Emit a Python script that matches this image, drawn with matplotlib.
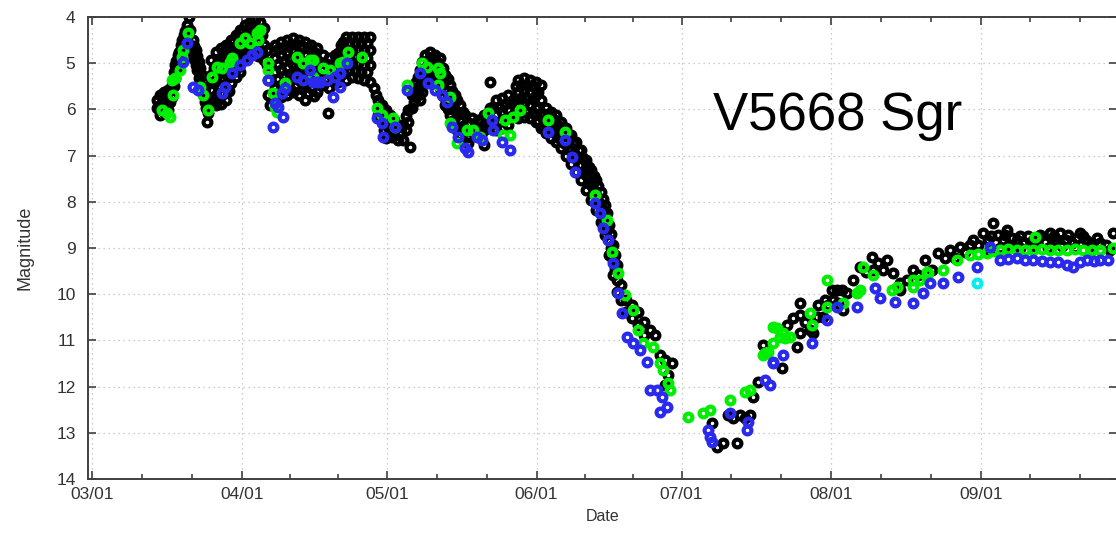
"""
plot.py
Courbe de lumière de V5668 Sgr (magnitude en fonction de la date).
"""

import matplotlib
matplotlib.use("Agg")
import matplotlib.pyplot as plt
from matplotlib.ticker import FixedLocator, NullFormatter

# dates : jours depuis le 03/01 ; magnitudes
month_days = [0, 31, 61, 92, 122, 153, 184]
month_labels = ["03/01", "04/01", "05/01", "06/01", "07/01", "08/01", "09/01"]

black_day = [
    13.5, 13.5, 14.1, 14.1, 14.1, 14.9, 14.9, 14.9, 15.7, 15.7, 15.7, 16.6, 16.6,
    17.2, 17.2, 17.8, 17.8, 18.4, 18.4, 19.0, 19.0, 19.7, 19.7, 20.1, 20.3,
    20.9, 20.9, 21.5, 21.5, 22.1, 22.1, 22.8, 22.8, 23.4, 23.4, 23.8, 24.0, 23.8,
    24.6, 24.6, 24.6, 24.6, 25.7, 25.7, 25.7, 25.7, 25.7, 26.7, 26.7, 26.7, 26.7, 26.7,
    27.7, 27.7, 27.7, 27.7, 27.7, 28.8, 28.8, 28.8, 28.8, 29.8, 29.8, 29.8, 29.8,
    30.6, 30.6, 30.6, 30.6,
    31.7, 31.7, 31.7, 32.7, 32.7, 32.7, 33.7, 33.7, 33.7, 34.8, 34.8, 34.8, 35.6, 35.6, 35.6,
    36.2, 36.2, 36.4, 36.4, 36.8,
    37.9, 37.9, 37.9, 37.9, 37.9, 39.1, 39.1, 39.1, 39.1, 39.1, 40.4, 40.4, 40.4, 40.4, 40.4,
    41.6, 41.6, 41.6, 41.6, 41.6, 42.8, 42.8, 42.8, 42.8, 42.8, 44.1, 44.1, 44.1, 44.1, 44.1,
    45.3, 45.3, 45.3, 45.3, 46.6, 46.6, 46.6, 46.6, 48.8,
    47.8, 47.8, 47.8, 49.0, 49.0, 49.0, 50.3, 50.3, 50.3, 51.5, 51.5, 51.5,
    52.6, 52.6, 52.6, 52.6, 53.8, 53.8, 53.8, 53.8, 55.0, 55.0, 55.0, 55.0,
    56.3, 56.3, 56.3, 56.3, 57.5, 57.5, 57.5, 57.5, 58.4, 58.8,
    59.2, 59.2, 60.0, 60.0, 60.8, 60.8, 60.8, 61.7, 61.7, 62.5, 62.5, 63.3, 63.3,
    64.4, 64.4, 65.4, 65.4, 65.8,
    66.2, 66.2, 67.1, 67.1, 67.9, 67.9, 67.9,
    68.9, 68.9, 68.9, 70.0, 70.0, 70.0, 71.0, 71.0, 71.0, 72.0, 72.0, 72.0,
    73.1, 73.1, 73.1, 74.1, 74.1, 74.1, 75.1, 75.1, 75.1, 76.2, 76.2, 76.2,
    77.2, 77.2, 77.8, 78.6, 78.6, 79.9, 79.9, 81.1, 81.1, 81.1, 82.4, 82.4, 82.4,
    83.6, 83.6, 83.6, 84.9, 84.9, 84.9, 86.1, 86.1, 86.1, 87.1, 87.1,
    88.2, 88.2, 88.2, 88.2, 89.4, 89.4, 89.4, 89.4, 90.6, 90.6, 90.6, 90.6,
    91.9, 91.9, 91.9, 91.9, 92.9, 92.9, 92.9, 92.9,
    94.0, 94.0, 94.0, 95.0, 95.0, 95.0, 96.0, 96.0, 96.0, 97.1, 97.1, 97.1,
    98.1, 98.1, 98.1, 99.1, 99.1, 99.1, 100.2, 100.2, 100.2, 101.2, 101.2, 101.2,
    102.2, 102.2, 102.2, 103.3, 103.3, 103.3, 104.3, 104.3, 104.3, 105.3, 105.3, 105.3,
    106.2, 106.2, 106.2, 107.0, 107.0, 107.0, 107.8, 107.8, 107.8, 108.7, 108.7, 108.7,
    109.5, 109.5,
    110.5, 110.5, 111.8, 111.8, 113.0, 113.0, 114.2, 114.2, 115.5, 116.5,
    117.5, 118.6, 120.0, 118.6, 119.2,
    128.3, 129.3, 130.6, 133.5, 131.6, 132.7, 134.1, 135.1, 136.2, 136.8, 137.8, 138.9,
    142.8, 143.8, 145.9,
    145.1, 146.5, 146.5, 146.5, 147.6, 148.6, 149.2, 150.0, 151.3, 152.3, 150.2, 151.7,
    153.1, 154.2, 155.2, 156.2, 153.4, 154.4, 155.4, 157.5, 158.9, 160.2, 161.4, 161.6,
    162.7, 163.7, 164.5, 165.8, 167.2, 167.2, 168.7, 169.9, 170.9, 172.4, 173.8, 175.1,
    176.5, 177.6, 178.6, 179.6, 180.7, 181.7, 182.3, 183.4, 184.4, 185.4, 186.5, 187.5,
    188.5, 189.4, 190.4, 191.4, 192.7, 193.7, 194.7, 196.2, 197.2, 198.3, 199.3, 200.3,
    201.6, 202.8, 203.8, 204.5, 205.7, 206.9, 208.6, 209.9, 211.3,
    185.8, 187.9, 190.0, 192.1, 195.2, 197.8, 200.7, 203.4, 206.5, 210.7,
    186.0, 189.0, 192.0, 195.5, 199.0, 202.0, 205.0, 208.0,
    # points intermédiaires du nuage dense
    14.5, 14.5, 15.3, 15.3, 16.1, 16.1, 16.9, 16.9, 17.5, 17.5, 18.1, 18.1,
    18.7, 18.7, 19.3, 19.3, 21.2, 21.2, 21.8, 21.8, 22.4, 22.4, 23.1, 23.1, 23.6, 23.6,
    25.2, 25.2, 25.2, 26.2, 26.2, 26.2, 26.2, 27.2, 27.2, 27.2, 27.2,
    28.3, 28.3, 28.3, 28.3, 29.3, 29.3, 29.3, 30.2, 30.2, 30.2,
    31.2, 31.2, 31.2, 32.2, 32.2, 32.2, 33.2, 33.2, 33.2, 34.3, 34.3, 34.3, 35.2, 35.2,
    38.5, 38.5, 38.5, 38.5, 39.8, 39.8, 39.8, 39.8, 41.0, 41.0, 41.0, 41.0,
    42.2, 42.2, 42.2, 42.2, 43.5, 43.5, 43.5, 43.5, 44.7, 44.7, 44.7, 44.7,
    46.0, 46.0, 46.0, 46.0, 47.2, 47.2, 48.4, 48.4, 49.7, 49.7, 50.9, 50.9, 50.9,
    52.0, 52.0, 52.0, 53.2, 53.2, 53.2, 54.4, 54.4, 54.4, 55.7, 55.7, 55.7,
    56.9, 56.9, 56.9,
    59.6, 59.6, 60.4, 60.4, 61.2, 61.2, 62.1, 62.1, 62.9, 63.9, 64.9, 64.9,
    66.7, 66.7, 67.5, 67.5, 68.4, 68.4, 68.4, 69.5, 69.5, 70.5, 70.5, 71.5, 71.5,
    72.6, 72.6, 72.6, 73.6, 73.6, 73.6, 74.6, 74.6, 74.6, 75.6, 75.6, 75.6,
    76.7, 76.7, 78.0, 78.0, 79.2, 80.5, 80.5, 81.8, 81.8, 83.0, 83.0,
    84.3, 84.3, 85.5, 85.5, 86.6, 86.6, 87.7, 87.7, 87.7, 88.8, 88.8, 88.8,
    90.0, 90.0, 90.0, 91.2, 91.2, 91.2, 92.4, 92.4, 92.4,
    93.5, 93.5, 94.5, 94.5, 95.5, 95.5, 96.6, 96.6, 97.6, 97.6, 98.6, 98.6,
    99.6, 99.6, 100.7, 100.7, 101.7, 101.7, 102.8, 102.8, 103.8, 103.8,
    104.8, 104.8, 105.8, 105.8, 106.6, 106.6, 107.4, 107.4, 108.3, 108.3,
]
black_mag = [
    5.80, 5.97, 5.69, 5.91, 6.12, 5.62, 5.84, 6.06, 5.58, 5.80, 6.01, 5.47, 5.73,
    5.04, 5.32, 4.82, 5.10, 4.61, 4.93, 4.39, 4.71, 4.17, 4.50, 4.00, 4.28,
    4.50, 4.82, 4.71, 5.04, 4.97, 5.32, 5.26, 5.58, 5.54, 5.84, 5.80, 6.08, 6.27,
    4.93, 5.26, 5.58, 5.86, 4.76, 5.04, 5.36, 5.69, 5.90, 4.67, 4.97, 5.32, 5.65, 5.88,
    4.61, 4.89, 5.19, 5.54, 5.80, 4.50, 4.82, 5.15, 5.43, 4.39, 4.71, 5.04, 5.30,
    4.28, 4.61, 4.93, 5.19,
    4.17, 4.45, 4.76, 4.11, 4.39, 4.71, 4.06, 4.35, 4.65, 4.11, 4.39, 4.71, 4.24, 4.61, 4.93,
    4.71, 5.04, 5.36, 5.69, 5.91,
    4.61, 4.89, 5.19, 5.54, 5.80, 4.54, 4.82, 5.15, 5.47, 5.73, 4.50, 4.76, 5.08, 5.41, 5.69,
    4.45, 4.71, 5.02, 5.32, 5.62, 4.50, 4.78, 5.08, 5.36, 5.69, 4.54, 4.82, 5.15, 5.47, 5.80,
    4.61, 4.89, 5.19, 5.54, 4.67, 4.97, 5.30, 5.62, 6.08,
    4.82, 5.15, 5.47, 4.89, 5.19, 5.54, 4.82, 5.10, 5.41, 4.61, 4.93, 5.26,
    4.43, 4.71, 5.04, 5.36, 4.43, 4.71, 5.00, 5.30, 4.43, 4.71, 5.00, 5.32,
    4.43, 4.71, 5.04, 5.36, 4.43, 4.71, 5.04, 5.41, 5.54, 5.69,
    5.80, 6.12, 5.91, 6.23, 6.01, 6.34, 6.62, 6.12, 6.45, 6.23, 6.55, 6.34, 6.66,
    6.34, 6.66, 6.01, 6.27, 6.81,
    5.69, 5.97, 5.41, 5.73, 5.15, 5.47, 5.80,
    4.82, 5.10, 5.41, 4.76, 5.04, 5.36, 4.82, 5.10, 5.41, 4.89, 5.19, 5.54,
    5.26, 5.58, 5.91, 5.47, 5.80, 6.12, 5.69, 6.01, 6.34, 5.91, 6.23, 6.55,
    6.12, 6.45, 6.73, 6.19, 6.49, 6.23, 6.55, 6.12, 6.45, 6.77, 5.97, 6.27, 5.41,
    5.80, 6.12, 6.45, 5.75, 6.06, 6.40, 5.69, 6.01, 6.34, 5.80, 6.12,
    5.36, 5.62, 5.91, 6.19, 5.32, 5.58, 5.86, 6.17, 5.36, 5.62, 5.91, 6.19,
    5.41, 5.69, 5.97, 6.27, 5.47, 5.80, 6.12, 6.40,
    5.97, 6.23, 6.51, 6.06, 6.34, 6.62, 6.12, 6.40, 6.71, 6.27, 6.55, 6.84,
    6.40, 6.71, 7.01, 6.55, 6.88, 7.18, 6.71, 7.03, 7.36, 6.88, 7.20, 7.53,
    7.10, 7.42, 7.74, 7.31, 7.64, 7.96, 7.53, 7.85, 8.18, 7.79, 8.11, 8.44,
    8.07, 8.39, 8.72, 8.50, 8.83, 9.15, 8.94, 9.26, 9.58, 9.37, 9.69, 9.95,
    9.80, 10.13,
    10.13, 10.39, 10.23, 10.52, 10.39, 10.67, 10.60, 10.88, 10.77, 10.88,
    11.32, 11.42, 11.49, 11.97, 11.75,
    12.79, 13.31, 13.22, 13.22, 12.61, 12.68, 12.61, 12.68, 12.61, 12.23, 11.90, 11.10,
    11.60, 10.67, 11.14,
    10.52, 10.19, 10.45, 10.84, 10.60, 10.77, 10.84, 10.49, 10.49, 10.23, 10.23, 10.13,
    9.91, 9.91, 9.91, 9.97, 10.13, 10.19, 10.34, 9.69, 9.41, 9.52, 9.19, 9.48,
    9.32, 9.48, 9.26, 9.54, 9.76, 9.91, 9.69, 9.48, 9.58, 9.26, 9.48, 9.11,
    9.22, 9.04, 9.22, 8.98, 9.09, 8.94, 8.83, 8.94, 8.68, 8.83, 8.46, 8.72,
    8.83, 8.61, 8.78, 8.83, 8.89, 8.74, 8.83, 8.72, 8.87, 8.68, 8.83, 8.68,
    8.83, 8.89, 8.78, 8.68, 8.83, 8.89, 8.89, 8.94, 8.68,
    9.04, 9.00, 8.96, 9.00, 8.96, 9.00, 8.96, 9.00, 8.96, 9.04,
    8.75, 8.72, 8.75, 8.78, 8.75, 8.72, 8.75, 8.78,
    # points intermédiaires du nuage dense
    5.72, 5.95, 5.70, 5.92, 5.55, 5.85, 5.20, 5.50, 4.95, 5.20, 4.75, 5.00,
    4.50, 4.80, 4.30, 4.60, 4.62, 4.90, 4.85, 5.15, 5.10, 5.45, 5.40, 5.70, 5.68, 5.98,
    5.10, 5.42, 5.75, 4.90, 5.20, 5.50, 5.78, 4.75, 5.05, 5.36, 5.67,
    4.66, 4.98, 5.30, 5.60, 4.55, 4.87, 5.17, 4.45, 4.77, 5.08,
    4.30, 4.60, 4.90, 4.25, 4.55, 4.85, 4.22, 4.50, 4.80, 4.25, 4.55, 4.85, 4.40, 4.75,
    4.70, 5.02, 5.35, 5.65, 4.65, 4.95, 5.28, 5.60, 4.60, 4.92, 5.25, 5.55,
    4.58, 4.88, 5.18, 5.48, 4.62, 4.95, 5.25, 5.55, 4.68, 5.00, 5.32, 5.65,
    4.75, 5.05, 5.38, 5.70, 5.00, 5.30, 5.02, 5.35, 5.02, 5.30, 4.78, 5.10, 5.40,
    4.55, 4.88, 5.20, 4.57, 4.86, 5.15, 4.57, 4.86, 5.16, 4.57, 4.86, 5.18,
    4.57, 4.88, 5.20,
    5.96, 6.18, 6.08, 6.45, 6.25, 6.55, 6.30, 6.60, 6.40, 6.50, 6.15, 6.45,
    5.57, 5.85, 5.30, 5.60, 4.98, 5.28, 5.62, 4.92, 5.20, 4.92, 5.22, 4.98, 5.30,
    5.10, 5.40, 5.70, 5.35, 5.70, 6.00, 5.60, 5.95, 6.25, 5.80, 6.12, 6.45,
    6.05, 6.35, 6.30, 6.60, 6.35, 6.25, 6.55, 6.10, 6.40, 5.95, 6.25,
    5.95, 6.28, 5.88, 6.20, 5.85, 6.18, 5.50, 5.78, 6.05, 5.47, 5.75, 6.05,
    5.47, 5.75, 6.05, 5.50, 5.78, 6.08, 5.62, 5.95, 6.25,
    6.10, 6.37, 6.15, 6.45, 6.20, 6.50, 6.35, 6.62, 6.45, 6.72, 6.55, 6.85,
    6.72, 7.03, 6.88, 7.20, 7.05, 7.35, 7.25, 7.58, 7.45, 7.75,
    7.65, 7.98, 7.95, 8.25, 8.25, 8.60, 8.70, 9.00, 9.15, 9.45,
]

green_day = [
    14.5, 15.5, 16.1, 16.8, 16.6, 17.2, 18.2, 18.6, 18.8, 19.9, 22.4, 23.0, 24.0,
    24.8, 25.9, 26.9, 28.6, 29.0, 30.6, 31.7, 32.7, 34.1, 34.4, 34.8, 36.4, 36.4,
    37.5, 37.9, 38.3, 39.9, 42.4, 43.7, 45.1, 45.7, 45.7, 47.8, 49.3, 51.3, 53.0,
    55.9, 51.9, 59.0, 60.0, 62.3, 62.7, 65.2, 68.3, 69.3, 71.6, 72.0, 71.6, 74.1,
    74.1, 77.6, 78.8, 80.3, 75.5, 82.0, 85.5, 87.1, 88.6, 85.1, 86.5, 94.4, 97.9,
    104.1, 106.6, 107.6, 108.9, 110.3, 112.0, 113.0, 114.0, 116.1, 117.5, 118.2,
    119.2, 119.6, 123.3, 126.4, 127.9, 132.0, 135.1, 136.2, 138.9, 139.9, 140.9,
    141.8, 143.0, 144.5, 140.9, 142.4, 139.3, 143.4, 148.6, 149.0, 152.1, 152.1,
    155.4, 158.3, 158.9, 159.6, 161.6, 165.6, 166.6, 169.9, 171.4, 173.0, 169.9,
    172.8, 176.1, 179.0, 181.7, 185.2, 187.9, 191.4, 195.2, 194.7, 198.3, 201.8,
    205.1, 208.6, 211.3, 189.6, 193.1, 196.6, 199.9, 203.4, 206.9, 183.4, 186.5,
]
green_mag = [
    6.01, 6.08, 6.16, 5.69, 5.36, 5.32, 5.15, 4.87, 4.71, 4.35, 5.52, 5.69, 6.01,
    5.30, 5.08, 5.10, 4.97, 4.89, 4.56, 4.45, 4.56, 4.35, 4.50, 4.28, 5.00, 5.15,
    5.65, 5.95, 6.06, 5.43, 4.87, 5.00, 4.93, 5.30, 4.93, 5.10, 5.15, 5.00, 4.76,
    4.87, 4.97, 5.97, 6.12, 6.19, 6.38, 5.47, 5.00, 5.08, 5.10, 5.21, 5.47, 5.73,
    6.29, 6.45, 6.45, 6.60, 6.73, 6.08, 6.23, 6.16, 6.01, 6.55, 6.55, 6.23, 6.49,
    7.85, 8.39, 9.09, 9.54, 10.02, 10.34, 10.77, 11.06, 11.14, 11.49, 11.64,
    11.92, 12.07, 12.66, 12.57, 12.51, 12.29, 12.12, 12.07, 11.32, 11.25, 11.06,
    10.73, 10.84, 10.93, 10.71, 10.93, 11.27, 10.95, 10.41, 10.67, 9.69, 10.28,
    10.19, 9.97, 9.91, 9.41, 9.58, 9.91, 9.84, 9.84, 9.69, 9.54, 9.69,
    9.52, 9.48, 9.26, 9.15, 9.11, 9.04, 9.04, 8.76, 9.04, 9.04, 9.04,
    9.04, 9.04, 9.00, 9.02, 9.04, 9.02, 9.04, 9.02, 9.04, 9.13, 9.06,
]

blue_day = [
    19.7, 18.8, 20.9, 21.9, 26.9, 27.5, 29.0, 30.6, 32.1, 33.1, 34.1, 36.4, 37.9,
    37.5, 38.5, 39.3, 39.9, 39.5, 42.4, 43.7, 45.1, 46.6, 45.7, 47.2, 48.6, 50.3,
    51.3, 52.8, 49.9, 51.3, 59.0, 60.0, 60.2, 62.7, 65.2, 67.9, 69.5, 71.0, 72.4,
    73.5, 74.5, 75.7, 77.2, 77.8, 79.7, 82.8, 83.0, 84.9, 86.5, 80.7, 94.4, 97.9,
    99.3, 100.0, 104.1, 105.1, 105.8, 106.8, 107.8, 108.9, 109.7, 110.7, 112.0,
    113.4, 114.9, 115.5, 116.9, 118.0, 119.0, 117.5, 127.5, 127.9, 128.3, 132.0,
    135.8, 135.6, 139.3, 140.3, 140.9, 143.0, 140.9, 149.0, 152.1, 154.2, 158.3,
    162.0, 163.1, 166.2, 169.9, 172.0, 173.4, 176.1, 179.2, 183.2, 185.8, 187.9,
    191.4, 194.7, 198.3, 201.8, 203.0, 205.9, 208.6, 210.3,
    189.6, 193.1, 196.6, 199.9, 204.5, 207.3,
]
blue_mag = [
    4.56, 4.97, 5.52, 5.58, 5.65, 5.52, 5.21, 5.04, 4.93, 4.82, 4.76, 5.36, 5.86,
    6.38, 5.95, 5.65, 5.54, 6.16, 5.30, 5.36, 5.15, 5.41, 5.41, 5.41, 5.36, 5.30,
    5.21, 5.00, 5.73, 5.52, 6.19, 6.29, 6.60, 6.38, 5.58, 5.21, 5.43, 5.58, 5.69,
    5.84, 6.38, 6.60, 6.84, 6.92, 6.60, 6.23, 6.45, 6.71, 6.88, 6.66, 6.49, 6.66,
    7.03, 7.36, 8.03, 8.24, 8.57, 8.83, 9.32, 9.97, 10.41, 10.93, 11.06,
    11.21, 11.47, 12.07, 12.07, 12.23, 12.44, 12.55, 12.94, 13.09, 13.20, 12.57,
    12.77, 12.94, 11.86, 11.97, 11.47, 11.32, 11.49, 11.06, 10.56, 10.28, 10.28,
    9.87, 10.08, 10.17, 10.19, 9.97, 9.76, 9.76, 9.63, 9.41, 8.98, 9.26,
    9.22, 9.26, 9.30, 9.37, 9.41, 9.26, 9.26, 9.26,
    9.24, 9.26, 9.28, 9.30, 9.30, 9.28,
]

cyan_day = [183.2]
cyan_mag = [9.76]

plt.rcParams["font.family"] = ["Liberation Sans", "DejaVu Sans"]

fig = plt.figure(figsize=(11.16, 5.38), dpi=100)
ax = fig.add_axes([88 / 1116, 59 / 538, 1029 / 1116, 462 / 538])

style = dict(ls="none", marker="o", ms=5.6, mew=3.0, mfc="none")
ax.plot(black_day, black_mag, mec="black", **style)
ax.plot(green_day, green_mag, mec="#00ee00", **style)
ax.plot(blue_day, blue_mag, mec="#2a2aee", **style)
ax.plot(cyan_day, cyan_mag, mec="#00eeee", **style)

ax.set_xlim(-0.8, 212.1)
ax.set_ylim(14, 4)

ax.set_xticks(month_days)
ax.set_xticklabels(month_labels)
minor = []
for a, b in zip(month_days[:-1], month_days[1:]):
    minor += [a + (b - a) / 3, a + 2 * (b - a) / 3]
minor += [184 + 10.2, 184 + 20.4]
ax.xaxis.set_minor_locator(FixedLocator(minor))
ax.xaxis.set_minor_formatter(NullFormatter())
ax.set_yticks(range(4, 15))

ax.grid(True, which="major", color="#bcbcbc", ls=(0, (1, 3)), lw=0.9)
ax.set_axisbelow(True)

ax.tick_params(which="both", direction="in", top=True, right=True,
               colors="#404040", labelcolor="#333333", labelsize=12.5)
ax.tick_params(which="major", length=6, width=1.2)
ax.tick_params(which="minor", length=3.5, width=1.2)
ax.tick_params(axis="y", pad=9)
ax.tick_params(axis="x", pad=6)
for sp in ax.spines.values():
    sp.set_color("#404040")
    sp.set_linewidth(1.4)

ax.set_xlabel("Date", fontsize=11.5, color="#333333", labelpad=5)
ax.set_ylabel("Magnitude", fontsize=13, color="#333333", labelpad=16)

ax.text(0.607, 0.755, "V5668 Sgr", transform=ax.transAxes, fontsize=38,
        ha="left", va="baseline", color="black")

fig.savefig("out.png", dpi=100)
